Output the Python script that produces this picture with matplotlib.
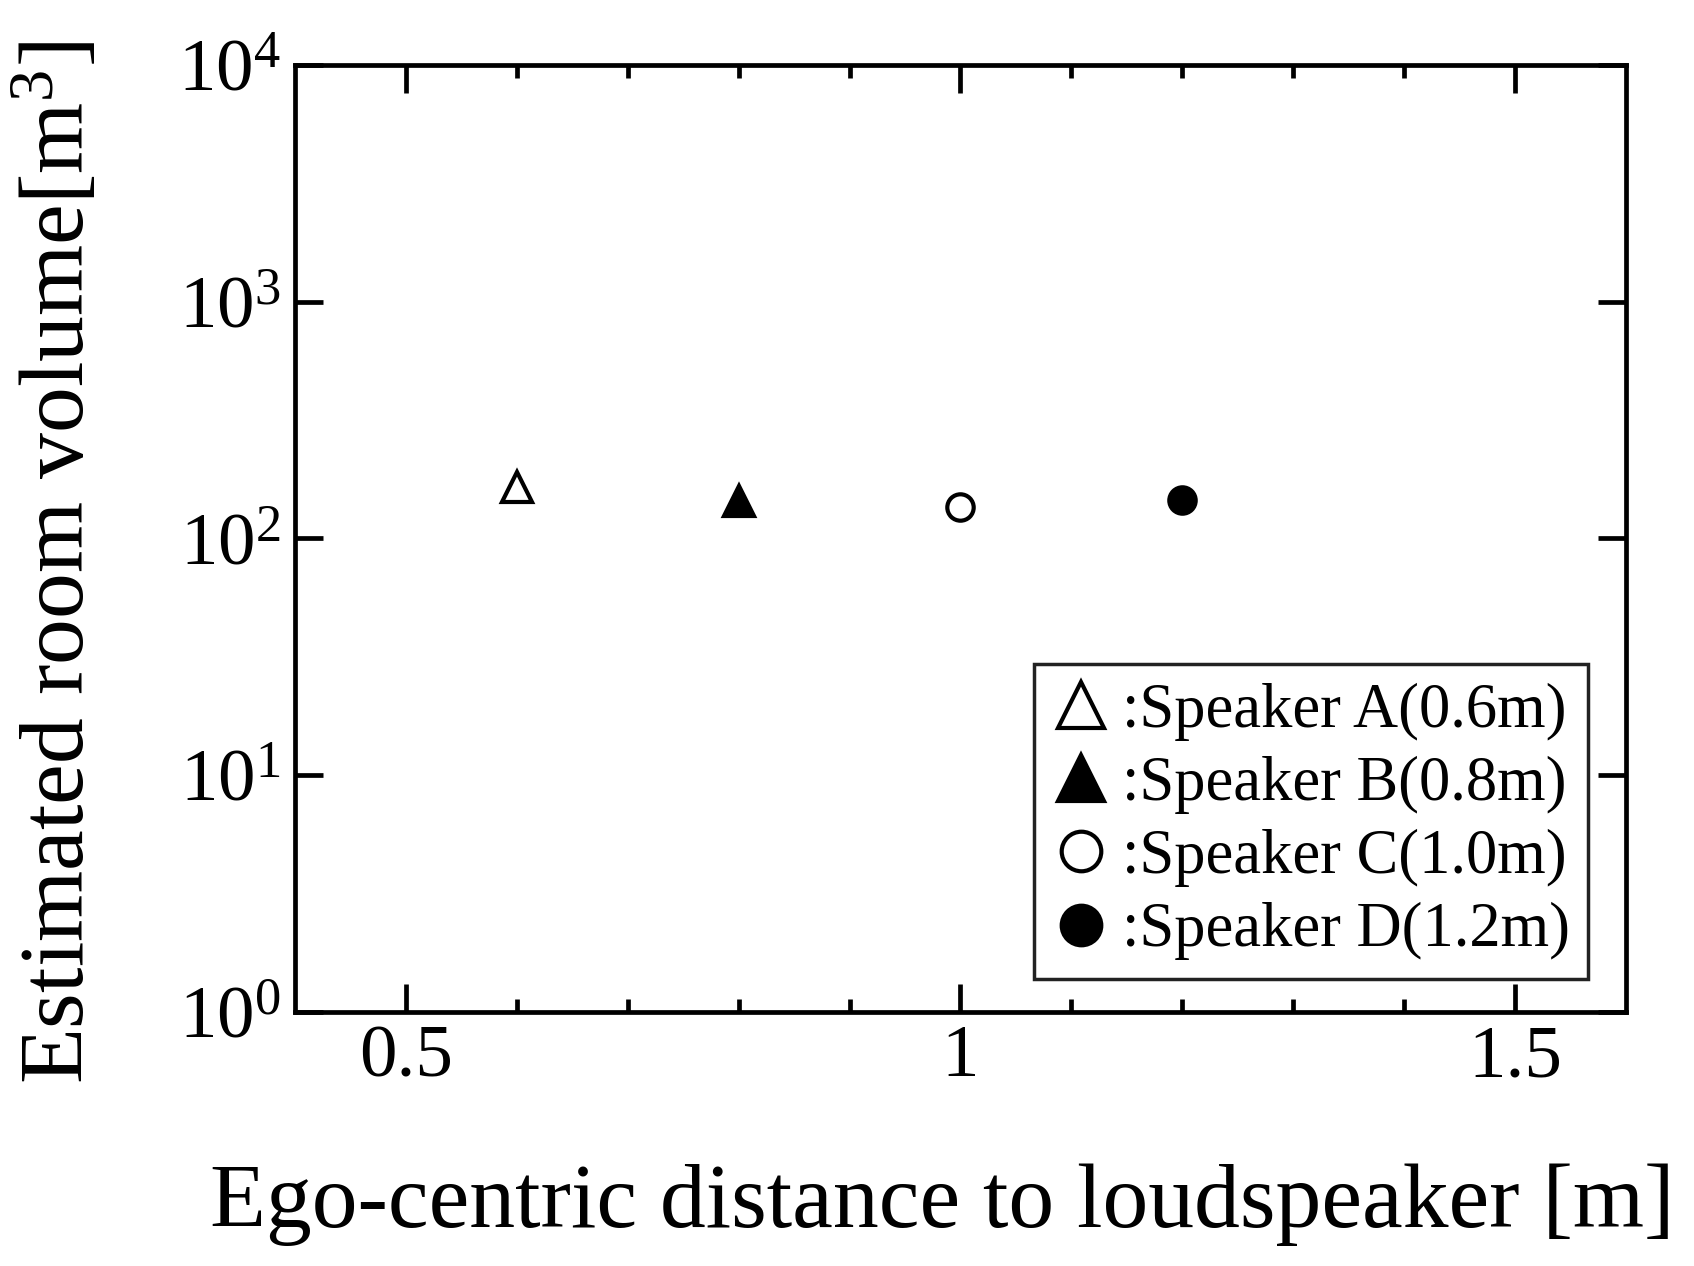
import matplotlib
matplotlib.use("Agg")
import matplotlib.pyplot as plt
from matplotlib.ticker import FixedLocator, FixedFormatter, NullLocator

plt.rcParams['font.family'] = ['Liberation Serif', 'DejaVu Serif']
plt.rcParams['mathtext.fontset'] = 'custom'
plt.rcParams['mathtext.rm'] = 'Liberation Serif'
plt.rcParams['mathtext.it'] = 'Liberation Serif:italic'
plt.rcParams['mathtext.bf'] = 'Liberation Serif:bold'

# ---- data ----
distances = [0.6, 0.8, 1.0, 1.2]
volumes = [165, 144, 136, 145]
labels = [":Speaker A(0.6m)", ":Speaker B(0.8m)", ":Speaker C(1.0m)", ":Speaker D(1.2m)"]
markers = ['^', '^', 'o', 'o']
filled = [False, True, False, True]

x_major = [0.5, 1.0, 1.5]
x_major_labels = ["0.5", "1", "1.5"]
x_minor = [0.6, 0.7, 0.8, 0.9, 1.1, 1.2, 1.3, 1.4]
y_major = [1, 10, 100, 1000, 10000]
y_major_labels = [r"$10^{0}$", r"$10^{1}$", r"$10^{2}$", r"$10^{3}$", r"$10^{4}$"]

fig = plt.figure(figsize=(16.94, 12.66), dpi=100)
ax = fig.add_axes([0.1741, 0.2006, 0.9599 - 0.1741, 0.9487 - 0.2006])

for x, y, m, f, lab in zip(distances, volumes, markers, filled, labels):
    ax.plot([x], [y], linestyle='none', marker=m,
            markersize=22 if m == '^' else 19,
            markerfacecolor='black' if f else 'white',
            markeredgecolor='black', markeredgewidth=3.0,
            label=lab)

ax.set_yscale('log')
ax.set_xlim(0.4, 1.6)
ax.set_ylim(1, 10000)

ax.xaxis.set_major_locator(FixedLocator(x_major))
ax.xaxis.set_major_formatter(FixedFormatter(x_major_labels))
ax.xaxis.set_minor_locator(FixedLocator(x_minor))
ax.yaxis.set_major_locator(FixedLocator(y_major))
ax.yaxis.set_major_formatter(FixedFormatter(y_major_labels))
ax.yaxis.set_minor_locator(NullLocator())

for s in ax.spines.values():
    s.set_linewidth(3.4)

ax.tick_params(which='major', direction='in', length=20, width=3.4,
               top=True, right=True, labelsize=54)
ax.tick_params(which='minor', direction='in', length=9.5, width=3.4,
               top=True, right=True)
ax.tick_params(axis='x', which='major', pad=9)
ax.tick_params(axis='y', which='major', pad=10)

ax.set_xlabel("Ego-centric distance to loudspeaker [m]", fontsize=66)
ax.set_ylabel(r"Estimated room volume[m$^{3}$]", fontsize=66)
ax.xaxis.set_label_coords(0.486, -0.160)
ax.yaxis.set_label_coords(-0.144, 0.475)

leg = ax.legend(loc='upper left', bbox_to_anchor=(1034 / 1694, 1 - 664 / 1266),
                bbox_transform=fig.transFigure, borderaxespad=0,
                fontsize=45, markerscale=1.5, handlelength=0.9,
                handletextpad=0.2, labelspacing=0.24, borderpad=0.3,
                frameon=True, fancybox=False, framealpha=1,
                edgecolor='#222222')
leg.get_frame().set_linewidth(2.5)

fig.savefig("out.png", dpi=100)
